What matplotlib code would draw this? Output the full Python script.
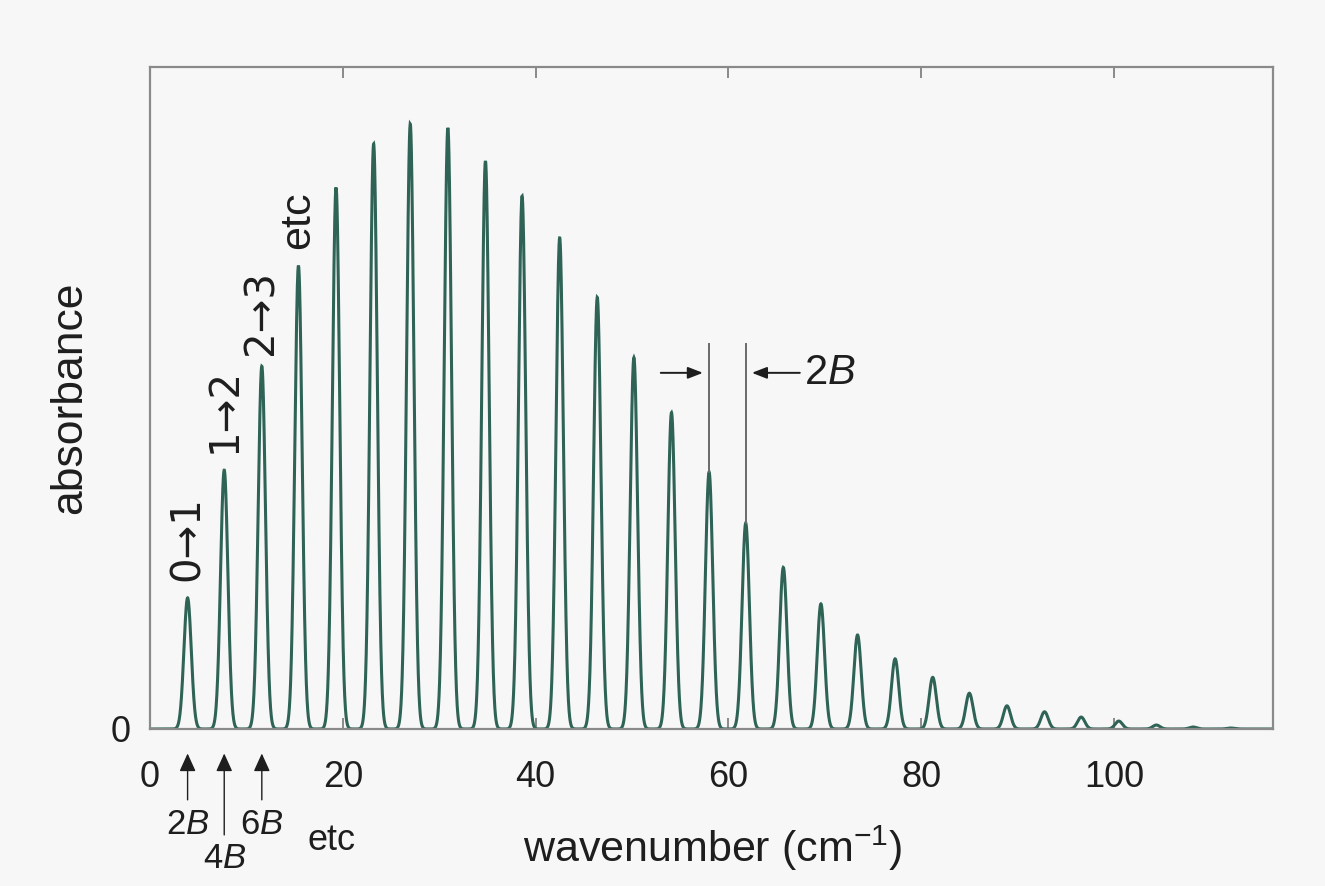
import numpy as np
import matplotlib
matplotlib.use("Agg")
import matplotlib.pyplot as plt

plt.rcParams['font.family'] = ['Liberation Sans', 'DejaVu Sans']
plt.rcParams['mathtext.fontset'] = 'custom'
plt.rcParams['mathtext.rm'] = 'Liberation Sans'
plt.rcParams['mathtext.it'] = 'Liberation Sans:italic'

# line positions (cm^-1) and peak absorbances
line_pos = [3.9, 7.7, 11.6, 15.4, 19.3, 23.2, 27.0, 30.9, 34.8, 38.6,
            42.5, 46.4, 50.2, 54.1, 58.0, 61.8, 65.7, 69.6, 73.4, 77.3,
            81.2, 85.0, 88.9, 92.8, 96.6, 100.5, 104.4, 108.2, 112.1]
line_h = [0.198, 0.391, 0.548, 0.700, 0.818, 0.884, 0.914, 0.908, 0.858, 0.805,
          0.742, 0.652, 0.561, 0.478, 0.388, 0.311, 0.244, 0.189, 0.142, 0.106,
          0.078, 0.054, 0.035, 0.026, 0.018, 0.012, 0.006, 0.003, 0.0015]
line_width = 0.38

x_ticks = [0, 20, 40, 60, 80, 100]
top_labels = ["0\u21921", "1\u21922", "2\u21923", "etc"]
bottom_labels = ["2$B$", "4$B$", "6$B$"]

line_color = '#2e6356'
text_color = '#1e1e1e'
bg = '#f7f7f7'

fig = plt.figure(figsize=(13.25, 8.86), dpi=100, facecolor=bg)
ax = fig.add_axes([150/1325, 1-729/886, (1273-150)/1325, (729-67)/886])
ax.set_facecolor(bg)

x = np.linspace(0, 116.5, 6000)
y = np.zeros_like(x)
for p, h in zip(line_pos, line_h):
    y += h * np.exp(-(x - p)**2 / (2 * line_width**2))
ax.plot(x, y, color=line_color, lw=2.2, solid_joinstyle='miter')

ax.set_xlim(0, 116.5)
ax.set_ylim(0, 1)
ax.set_xticks(x_ticks)
ax.set_yticks([0])
for s in ax.spines.values():
    s.set_color('#8a8a8a')
    s.set_linewidth(1.6)
ax.tick_params(axis='x', direction='in', length=8, width=1.4, color='#8a8a8a',
               top=True, bottom=True, labelsize=26, pad=22, labelcolor=text_color)
ax.tick_params(axis='y', length=0, labelsize=26, pad=14, labelcolor=text_color)

ax.set_xlabel("wavenumber (cm$^{-1}$)", fontsize=31, color=text_color)
ax.xaxis.set_label_coords(0.501, -0.143)
ax.set_ylabel("absorbance", fontsize=32, color=text_color)
ax.yaxis.set_label_coords(-0.053, 0.5)

# transition labels above the first lines
gaps = [12, 12, 8, 12]
for i, lab in enumerate(top_labels):
    is_etc = lab == "etc"
    ax.annotate(lab, xy=(line_pos[i], line_h[i]), xytext=(0, gaps[i]),
                textcoords='offset points', rotation=90, ha='center', va='bottom',
                fontsize=31 if is_etc else 29, color=text_color,
                family=['Liberation Sans'] if is_etc else ['DejaVu Sans'])

# 2B spacing marker
i1, i2 = 14, 15
ytop = 0.582
ax.plot([line_pos[i1], line_pos[i1]], [line_h[i1], ytop], color='#6a6a6a', lw=1.4)
ax.plot([line_pos[i2], line_pos[i2]], [line_h[i2], ytop], color='#6a6a6a', lw=1.4)
yarr = 0.538
ax.annotate('', xy=(line_pos[i1] - 0.35, yarr), xytext=(line_pos[i1] - 5.3, yarr),
            arrowprops=dict(arrowstyle='-|>,head_length=0.9,head_width=0.35',
                            color=text_color, lw=1.4))
ax.annotate('', xy=(line_pos[i2] + 0.35, yarr), xytext=(line_pos[i2] + 5.9, yarr),
            arrowprops=dict(arrowstyle='-|>,head_length=0.9,head_width=0.35',
                            color=text_color, lw=1.4))
ax.text(line_pos[i2] + 6.0, yarr, "2$B$", fontsize=30, ha='left', va='center',
        color=text_color)

# arrows below axis marking 2B, 4B, 6B
tails = [-0.107, -0.16, -0.107]
lab_y = [-0.145, -0.195, -0.145]
for i in range(3):
    ax.annotate('', xy=(line_pos[i], -0.037), xytext=(line_pos[i], tails[i]),
                xycoords='data', textcoords='data', annotation_clip=False,
                arrowprops=dict(arrowstyle='-|>,head_length=1.1,head_width=0.5',
                                color=text_color, lw=1.0, shrinkA=0, shrinkB=0))
    ax.text(line_pos[i], lab_y[i], bottom_labels[i], fontsize=25, ha='center',
            va='center', color=text_color, clip_on=False)
ax.text(18.8, -0.168, "etc", fontsize=26, ha='center', va='center',
        color=text_color, clip_on=False)

fig.savefig("out.png", dpi=100, facecolor=bg)
